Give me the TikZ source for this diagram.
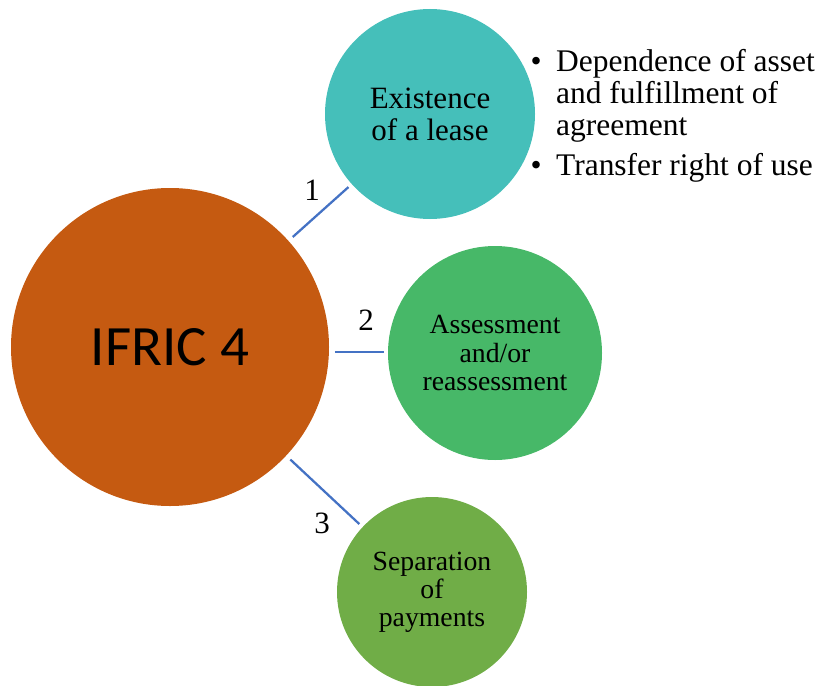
\documentclass[tikz,border=0pt]{standalone}
\usepackage{fontspec}
\setmainfont{Liberation Serif}
\newfontfamily\calibri{Carlito}
\definecolor{ifricorange}{RGB}{197,90,17}
\definecolor{leaseteal}{RGB}{69,191,186}
\definecolor{assessgreen}{RGB}{71,184,104}
\definecolor{paygreen}{RGB}{112,173,71}
\definecolor{linkblue}{RGB}{68,114,196}

\tikzset{every picture/.style={line width=0.75pt}}
\tikzset{
  bubble/.style={circle, inner sep=0pt, align=center, text=black},
  link/.style={draw=linkblue, line width=1.7pt, shorten <=4pt, shorten >=3pt},
  numlabel/.style={font=\fontsize{23.25}{24}\selectfont}
}

\begin{document}
\begin{tikzpicture}[x=0.75pt,y=0.75pt,yscale=-1,xscale=1]
        \useasboundingbox (0,0) rectangle (820,685);
        % circles
        \node [bubble, fill=ifricorange, minimum size=238.5pt, font=\calibri\fontsize{42.75}{44}\selectfont] (ifric) at (170,347) {IFRIC 4};
        \node [bubble, fill=leaseteal, minimum size=157.5pt, font=\fontsize{23.25}{24}\selectfont] (lease) at (430,114) {Existence\\of a lease};
        \node [bubble, fill=assessgreen, minimum size=160.5pt, font=\fontsize{20.8}{21.4}\selectfont] (assess) at (495,353) {Assessment\\and/or\\reassessment};
        \node [bubble, fill=paygreen, minimum size=142.5pt, font=\fontsize{20.8}{21}\selectfont] (pay) at (432,592) {Separation\\of\\payments};
        % connectors
        \draw [link] (ifric) -- (lease);
        \draw [link] (ifric.east |- 0,352) -- (assess.west |- 0,352);
        \draw [link] (ifric) -- (pay);
        \draw (312,190) node [numlabel] (lab1) {1};
        \draw (366,320) node [numlabel] (lab2) {2};
        \draw (322,523) node [numlabel] (lab3) {3};
        % bullet list
        \node [anchor=base west, inner sep=0pt, font=\fontsize{23.6}{23.6}\selectfont] (bullets) at (530,72) {\begin{tabular}[t]{@{}l@{\hspace{11pt}}l@{}}
\textbullet & Dependence of asset\\
 & and fulfillment of\\
 & agreement\\[6.4pt]
\textbullet & Transfer right of use
\end{tabular}};
\end{tikzpicture}
\end{document}
